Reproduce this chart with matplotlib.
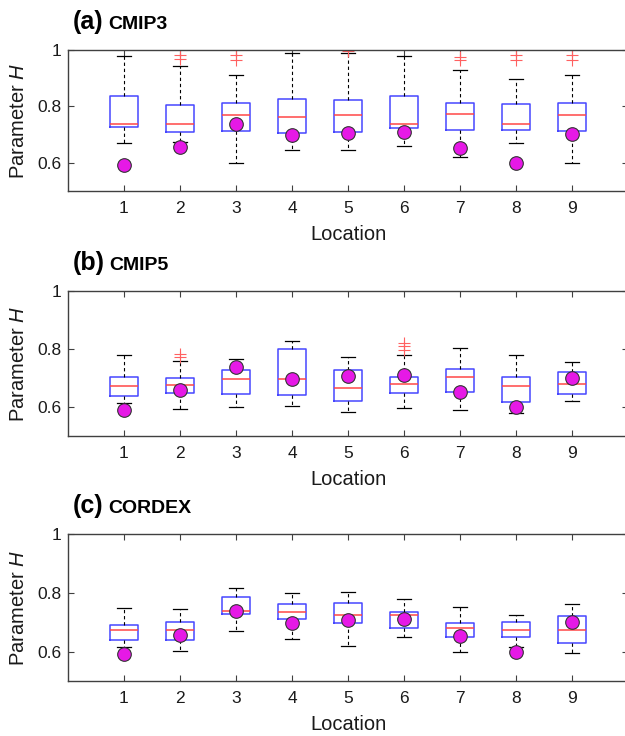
import numpy as np
import matplotlib
matplotlib.use("Agg")
import matplotlib.pyplot as plt

plt.rcParams['font.family'] = ['Liberation Sans', 'DejaVu Sans']
plt.rcParams['mathtext.fontset'] = 'custom'
plt.rcParams['mathtext.rm'] = 'Liberation Sans'
plt.rcParams['mathtext.it'] = 'Liberation Sans:italic'

locations = [1, 2, 3, 4, 5, 6, 7, 8, 9]

# observed H (same in all panels)
obs_h = [0.591, 0.657, 0.739, 0.697, 0.706, 0.710, 0.653, 0.600, 0.701]

# (a) CMIP3
a_lo = [0.669, 0.672, 0.600, 0.645, 0.645, 0.658, 0.622, 0.669, 0.600]
a_q1 = [0.726, 0.709, 0.713, 0.706, 0.708, 0.722, 0.717, 0.717, 0.713]
a_med = [0.739, 0.739, 0.771, 0.762, 0.771, 0.739, 0.774, 0.739, 0.769]
a_q3 = [0.837, 0.804, 0.812, 0.828, 0.822, 0.837, 0.811, 0.807, 0.812]
a_hi = [0.978, 0.945, 0.910, 0.988, 0.988, 0.978, 0.929, 0.897, 0.910]
a_out = [[], [0.984, 0.969], [0.984, 0.966], [], [0.996], [],
         [0.976, 0.964], [0.981, 0.966], [0.984, 0.966]]

# (b) CMIP5
b_lo = [0.615, 0.593, 0.599, 0.605, 0.584, 0.597, 0.590, 0.581, 0.622]
b_q1 = [0.637, 0.648, 0.645, 0.643, 0.622, 0.649, 0.653, 0.617, 0.646]
b_med = [0.672, 0.677, 0.697, 0.697, 0.667, 0.680, 0.702, 0.672, 0.681]
b_q3 = [0.705, 0.699, 0.726, 0.800, 0.726, 0.705, 0.731, 0.705, 0.721]
b_hi = [0.778, 0.757, 0.767, 0.829, 0.773, 0.778, 0.803, 0.778, 0.754]
b_out = [[], [0.782, 0.774], [], [], [], [0.822, 0.810, 0.795], [], [], []]

# (c) CORDEX
c_lo = [0.615, 0.603, 0.671, 0.643, 0.618, 0.651, 0.600, 0.615, 0.594]
c_q1 = [0.640, 0.640, 0.728, 0.712, 0.697, 0.679, 0.650, 0.650, 0.629]
c_med = [0.674, 0.673, 0.738, 0.733, 0.726, 0.725, 0.679, 0.675, 0.675]
c_q3 = [0.689, 0.702, 0.787, 0.762, 0.765, 0.736, 0.696, 0.700, 0.721]
c_hi = [0.749, 0.746, 0.817, 0.801, 0.803, 0.778, 0.751, 0.723, 0.763]
c_out = [[], [], [], [], [], [], [], [], []]

panels = [
    ('(a)', 'CMIP3', a_lo, a_q1, a_med, a_q3, a_hi, a_out),
    ('(b)', 'CMIP5', b_lo, b_q1, b_med, b_q3, b_hi, b_out),
    ('(c)', 'CORDEX', c_lo, c_q1, c_med, c_q3, c_hi, c_out),
]

# axes boxes in pixels (left, top, right, bottom); right side runs off the canvas
W, Hpx = 625, 736
rects = [(68, 50, 628, 191), (68, 291, 628, 436), (68, 534, 628, 681)]

fig = plt.figure(figsize=(6.25, 7.36), dpi=100)
axcol = '#404040'

for (tag, name, lo, q1, med, q3, hi, out), (x0, y0, x1, y1) in zip(panels, rects):
    ax = fig.add_axes([x0 / W, 1 - y1 / Hpx, (x1 - x0) / W, (y1 - y0) / Hpx])
    stats = []
    for i in range(len(locations)):
        stats.append(dict(whislo=lo[i], q1=q1[i], med=med[i], q3=q3[i],
                          whishi=hi[i], fliers=out[i]))
    ax.bxp(stats, positions=locations, widths=0.51, showfliers=True,
           boxprops=dict(color='#4646ff', lw=1.1),
           medianprops=dict(color='#ff4646', lw=1.1),
           whiskerprops=dict(color='black', lw=0.8, ls=(0, (3, 2.5))),
           capprops=dict(color='black', lw=0.9),
           capwidths=0.25,
           flierprops=dict(marker='+', markeredgecolor='#ff6060',
                           markersize=9, markeredgewidth=0.8))
    ax.plot(locations, obs_h, 'o', color='#e619e6', markeredgecolor='#333333',
            markeredgewidth=0.8, markersize=9.8, zorder=5)

    ax.set_xlim(0, 10)
    ax.set_ylim(0.5, 1.0)
    ax.set_xticks(locations)
    ax.set_xticklabels([str(l) for l in locations])
    ax.set_yticks([0.6, 0.8, 1.0])
    ax.set_yticklabels(['0.6', '0.8', '1'])
    ax.tick_params(direction='in', top=True, right=True, length=4,
                   color=axcol, labelsize=12.5, labelcolor='#1a1a1a')
    ax.tick_params(axis='x', pad=7.5)
    ax.tick_params(axis='y', pad=5)
    for s in ax.spines.values():
        s.set_color(axcol)
        s.set_linewidth(1.0)
    ax.set_xlabel('Location', fontsize=14.5, color='#1a1a1a', labelpad=6.5)
    ax.set_ylabel('Parameter $\\mathit{H}$', fontsize=14.5, color='#1a1a1a')
    ax.yaxis.set_label_coords(-0.0714, 0.5)

    t1 = fig.text(73 / W, 1 - (y0 - 28) / Hpx, tag, fontsize=18,
                  fontweight='bold', va='center', ha='left')
    ax.annotate(name, xy=(1, 0), xycoords=t1, xytext=(3, 0.9),
                textcoords='offset points', fontsize=14, fontweight='bold',
                va='bottom', ha='left')

fig.savefig('out.png', dpi=100)
